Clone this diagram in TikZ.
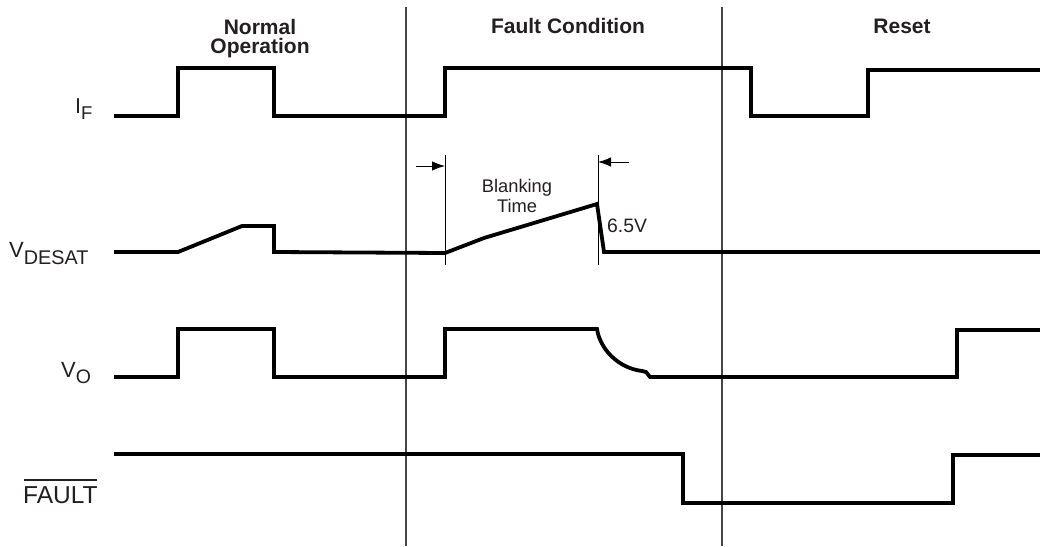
\documentclass[tikz,border=0pt]{standalone}
\usepackage{fontspec}
\setmainfont{Liberation Sans}
\usetikzlibrary{arrows.meta}
\definecolor{txt}{RGB}{35,31,32}
\definecolor{divc}{RGB}{70,70,70}
\tikzset{
  wave/.style={line width=3.8pt, line join=miter, line cap=butt, black},
  divider/.style={line width=1.1pt, divc},
  marker/.style={line width=0.9pt, black},
  marrow/.style={line width=0.9pt, black, -{Latex[length=13pt,width=9.5pt]}},
  head/.style={anchor=base, inner sep=0pt, text=txt, font=\fontsize{21}{21}\selectfont\bfseries},
  lbl/.style={anchor=base west, inner sep=0pt, text=txt},
  note/.style={anchor=base, inner sep=0pt, text=txt, font=\fontsize{18.3}{18.3}\selectfont}
}
\begin{document}
\begin{tikzpicture}[x=1pt,y=-1pt]
\useasboundingbox (0,0) rectangle (1040,546);
% dividers
\draw[divider] (406,7) -- (406,546);
\draw[divider] (722,7) -- (722,546);
% headers
\node[head] (hn1) at (260,34) {Normal};
\node[head] (hn2) at (260,53) {Operation};
\node[head] (hf) at (568,33) {Fault Condition};
\node[head] (hr) at (902,33) {Reset};
% signal labels
\node[lbl] (lif) at (75,113) {\fontsize{21.5}{21}\selectfont I\raisebox{-6pt}{\fontsize{18.5}{19}\selectfont F}};
\node[lbl] (lvd) at (9,257) {\fontsize{22}{22}\selectfont V\raisebox{-7pt}{\fontsize{19.8}{20}\selectfont DESAT}};
\node[lbl] (lvo) at (61,377) {\fontsize{22}{22}\selectfont V\raisebox{-6pt}{\fontsize{19.5}{20}\selectfont O}};
\node[lbl] (lfa) at (23,503) {\fontsize{24.5}{25}\selectfont FAULT};
\draw[line width=1.6pt, txt] ([yshift=6pt,xshift=1pt]lfa.north west) -- ([yshift=6pt,xshift=-1pt]lfa.north east);
% I_F
\draw[wave] (114,116) -- (178,116) -- (178,68) -- (274,68) -- (274,116) -- (445,116)
  -- (445,68) -- (751,68) -- (751,116) -- (868,116) -- (868,70) -- (1040,70);
% V_DESAT
\draw[wave] (114,252) -- (178,252) -- (242,226) -- (274,226) -- (274,252) -- (445,253)
  -- (484,238) -- (597,204) -- (604,252) -- (1040,252);
% V_O
\draw[wave] (114,377) -- (178,377) -- (178,329) -- (274,329) -- (274,377) -- (445,377)
  -- (445,329) -- (597,329) .. controls (600,349) and (618,368) .. (642,371)
  -- (646,372) -- (650,377) -- (957,377) -- (957,330) -- (1040,330);
% FAULT
\draw[wave] (114,454) -- (683,454) -- (683,503) -- (953,503) -- (953,455) -- (1040,455);
% blanking time markers
\coordinate (b1t) at (445,155);
\coordinate (b1b) at (445,265);
\coordinate (b2t) at (598,155);
\coordinate (b2b) at (598,265);
\coordinate (a1s) at (416,166);
\coordinate (a1e) at (445,166);
\coordinate (a2s) at (629,162);
\coordinate (a2e) at (598,162);
\draw[marker] (b1t) -- (b1b);
\draw[marker] (b2t) -- (b2b);
\draw[marrow] (a1s) -- (a1e);
\draw[marrow] (a2s) -- (a2e);
\node[note] (nb1) at (517,192) {Blanking};
\node[note] (nb2) at (517,212) {Time};
\node[lbl, font=\fontsize{19.4}{19.4}\selectfont] (n65) at (607,232) {6.5V};
\end{tikzpicture}
\end{document}
